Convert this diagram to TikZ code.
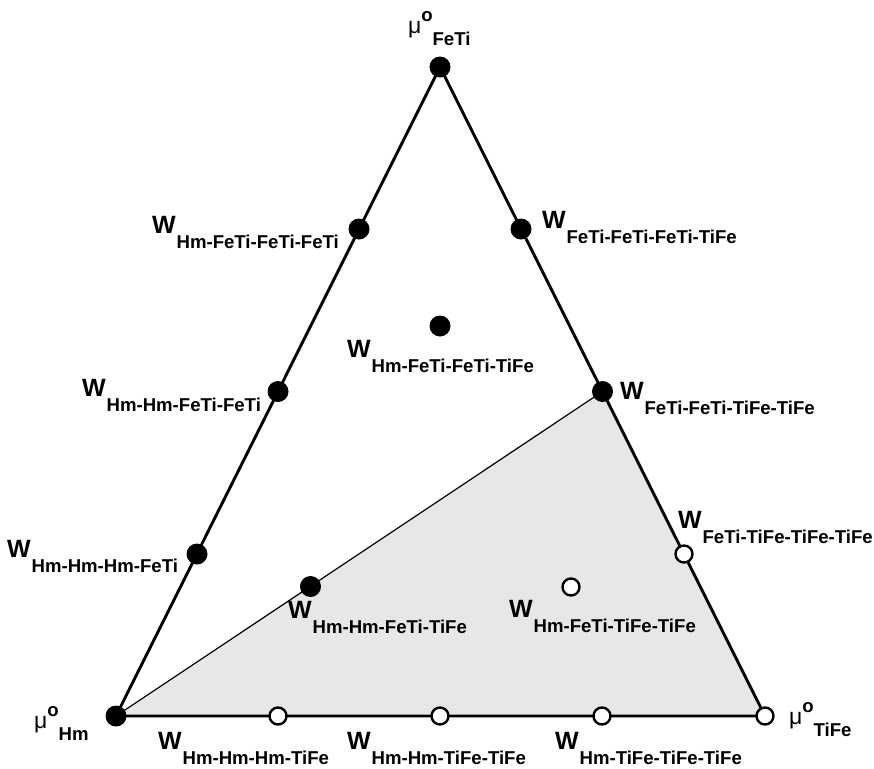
\documentclass[tikz,border=0pt]{standalone}
\usepackage{fontspec}
\setmainfont{Liberation Sans}
\definecolor{shadegray}{RGB}{230,231,233}
\tikzset{
  fdot/.style={circle,fill=black,inner sep=0pt,minimum size=21pt},
  odot/.style={circle,draw=black,fill=white,line width=2.4pt,inner sep=0pt,minimum size=17pt},
  edgeline/.style={line width=2.9pt,line join=round,line cap=round},
  thinline/.style={line width=1.2pt},
  lab/.style={anchor=base west,inner sep=0pt,outer sep=0pt},
}
\newcommand\Wlab[1]{{\fontsize{25}{25}\selectfont\bfseries W}\kern1pt\raisebox{-15pt}{\fontsize{18.6}{18.6}\selectfont\bfseries #1}}
\newcommand\mulab[1]{{\fontsize{23}{23}\selectfont μ}\raisebox{12pt}{\fontsize{18.6}{18.6}\selectfont\bfseries o}\raisebox{-12pt}{\fontsize{18.6}{18.6}\selectfont\bfseries #1}}
\begin{document}
\begin{tikzpicture}[x=1pt,y=-1pt]
\useasboundingbox (0,0) rectangle (874,768);
% vertices and points
\coordinate (T) at (440,67);
\coordinate (L) at (116,716);
\coordinate (R) at (765,716);
\coordinate (L1) at (359,229);
\coordinate (L2) at (278,391.5);
\coordinate (L3) at (197,554);
\coordinate (R1) at (521,229);
\coordinate (R2) at (602.5,391.5);
\coordinate (R3) at (684,554);
\coordinate (B1) at (278,716);
\coordinate (B2) at (440,716);
\coordinate (B3) at (602,716);
\coordinate (C1) at (440,326);
\coordinate (C2) at (310.5,586.5);
\coordinate (C3) at (571,587);
% shaded region
\fill[shadegray] (L) -- (R2) -- (R) -- cycle;
\draw[thinline] (L) -- (R2);
\draw[edgeline] (L) -- (T) -- (R) -- cycle;
% dots
\node[fdot] (nT) at (T) {};
\node[fdot] (nL) at (L) {};
\node[odot] (nR) at (R) {};
\node[fdot] (nL1) at (L1) {};
\node[fdot] (nL2) at (L2) {};
\node[fdot] (nL3) at (L3) {};
\node[fdot] (nR1) at (R1) {};
\node[fdot] (nR2) at (R2) {};
\node[odot] (nR3) at (R3) {};
\node[odot] (nB1) at (B1) {};
\node[odot] (nB2) at (B2) {};
\node[odot] (nB3) at (B3) {};
\node[fdot] (nC1) at (C1) {};
\node[fdot] (nC2) at (C2) {};
\node[odot] (nC3) at (C3) {};
% labels
\node[lab] (tT) at (408,34) {\mulab{FeTi}};
\node[lab] (tL) at (34,728) {\mulab{Hm}};
\node[lab] (tR) at (789,724) {\mulab{TiFe}};
\node[lab] (tL1) at (152,233) {\Wlab{Hm-FeTi-FeTi-FeTi}};
\node[lab] (tL2) at (82,396) {\Wlab{Hm-Hm-FeTi-FeTi}};
\node[lab] (tL3) at (7,557) {\Wlab{Hm-Hm-Hm-FeTi}};
\node[lab] (tR1) at (542,228) {\Wlab{FeTi-FeTi-FeTi-TiFe}};
\node[lab] (tR2) at (620,399) {\Wlab{FeTi-FeTi-TiFe-TiFe}};
\node[lab] (tR3) at (678,528) {\Wlab{FeTi-TiFe-TiFe-TiFe}};
\node[lab] (tC1) at (347,357) {\Wlab{Hm-FeTi-FeTi-TiFe}};
\node[lab] (tC2) at (288,618) {\Wlab{Hm-Hm-FeTi-TiFe}};
\node[lab] (tC3) at (509,617) {\Wlab{Hm-FeTi-TiFe-TiFe}};
\node[lab] (tB1) at (158,749) {\Wlab{Hm-Hm-Hm-TiFe}};
\node[lab] (tB2) at (347,749) {\Wlab{Hm-Hm-TiFe-TiFe}};
\node[lab] (tB3) at (555,749) {\Wlab{Hm-TiFe-TiFe-TiFe}};
\end{tikzpicture}
\end{document}
